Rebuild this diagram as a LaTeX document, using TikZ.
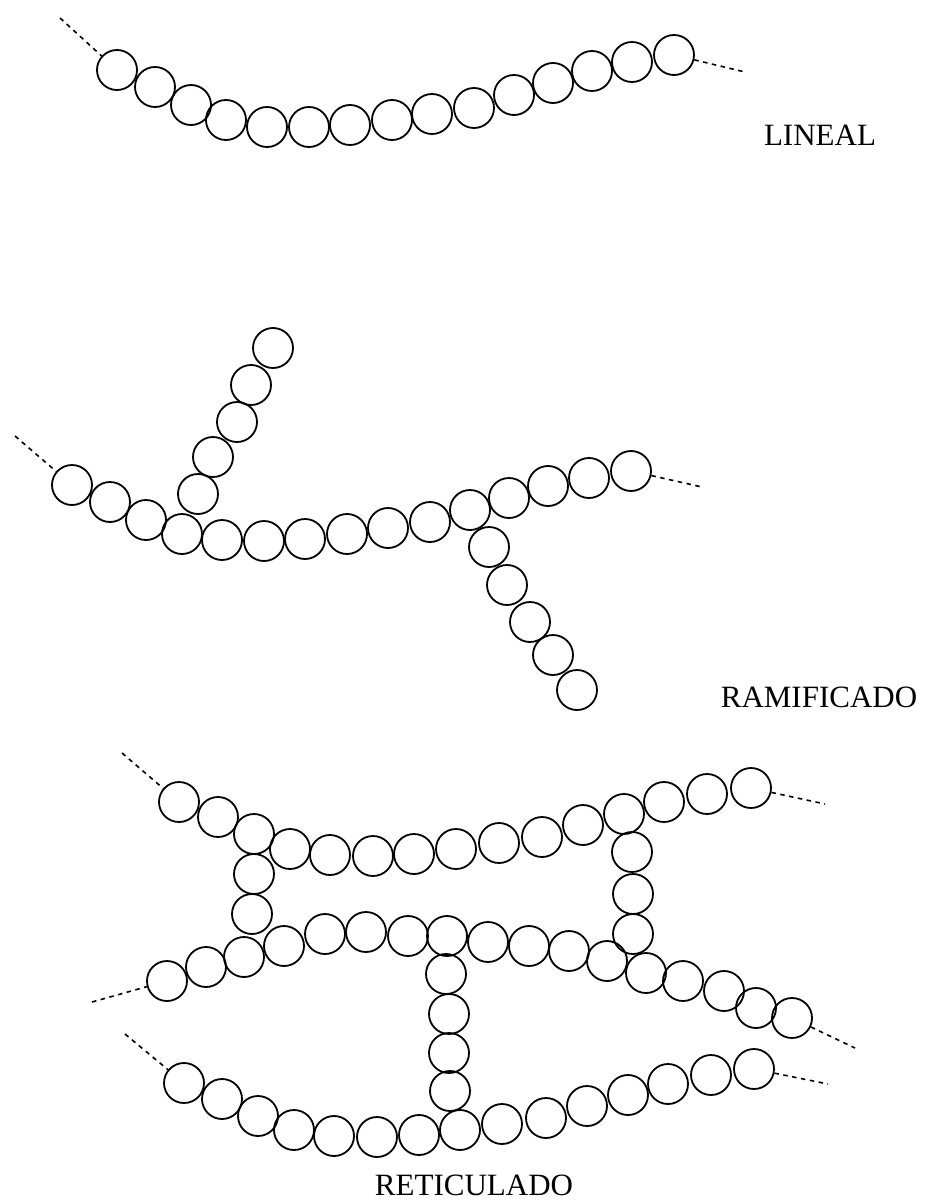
\documentclass[tikz,border=0pt]{standalone}
\usepackage{fontspec}
\setmainfont{Liberation Serif}
\begin{document}
\begin{tikzpicture}[x=1pt,y=-1pt,
  bead/.style={circle,draw=black,line width=1.8pt,minimum size=40pt,inner sep=0pt},
  tail/.style={draw=black,line width=1.6pt,dash pattern=on 4.5pt off 4.5pt},
  label/.style={font=\fontsize{31}{31}\selectfont,inner sep=0pt}]
\useasboundingbox (0,0) rectangle (942,1201);

% --- linear chain ---
\foreach \x/\y [count=\i] in {117/70,155/87,191/105,226/120,267/127,309/127,350/125,392/120,432/114,474/108,514/95,553/83,592/71,632/62,674/55}
  \node[bead] (L\i) at (\x,\y) {};
\coordinate (La) at (60,18);
\coordinate (Lb) at (745,72);
\draw[tail] (La) -- (L1);
\draw[tail] (L15) -- (Lb);
\node[label] (tL) at (820,135) {LINEAL};

% --- branched chain ---
\foreach \x/\y [count=\i] in {72/485,110/502,146/520,182/534,222/540,264/541,305/539,347/534,388/528,430/522,470/510,509/498,548/486,589/478,631/471}
  \node[bead] (R\i) at (\x,\y) {};
\foreach \x/\y [count=\i] in {198/494,213/457,237/422,251/385,273/348}
  \node[bead] (Ru\i) at (\x,\y) {};
\foreach \x/\y [count=\i] in {489/547,507/585,530/622,553/655,577/690}
  \node[bead] (Rd\i) at (\x,\y) {};
\coordinate (Ra) at (15,436);
\coordinate (Rb) at (702,487);
\draw[tail] (Ra) -- (R1);
\draw[tail] (R15) -- (Rb);
\node[label] (tR) at (819,697) {RAMIFICADO};

% --- cross-linked network ---
% upper chain
\foreach \x/\y [count=\i] in {179/802,218/817,254/834,290/849,330/855,373/856,414/854,456/849,499/843,542/837,583/825,624/814,664/802,707/794,751/788}
  \node[bead] (T\i) at (\x,\y) {};
% middle chain
\foreach \x/\y [count=\i] in {167/981,206/967,244/957,284/946,325/934,366/932,408/936,447/936,488/942,529/946,569/951,607/961,646/973,683/981,724/991,756/1008,792/1018}
  \node[bead] (M\i) at (\x,\y) {};
% lower chain
\foreach \x/\y [count=\i] in {184/1083,222/1099,258/1116,294/1130,334/1136,377/1137,419/1135,460/1130,502/1124,546/1118,587/1106,628/1095,668/1084,711/1075,754/1069}
  \node[bead] (B\i) at (\x,\y) {};
% cross-links
\foreach \x/\y [count=\i] in {254/874,252/914}
  \node[bead] (XA\i) at (\x,\y) {};
\foreach \x/\y [count=\i] in {632/852,633/894,633/934}
  \node[bead] (XB\i) at (\x,\y) {};
\foreach \x/\y [count=\i] in {446/974,449/1014,449/1053,450/1091}
  \node[bead] (XC\i) at (\x,\y) {};
% chain ends
\coordinate (Ta) at (122,753);
\coordinate (Tb) at (825,804);
\coordinate (Ma) at (92,1002);
\coordinate (Mb) at (855,1048);
\coordinate (Ba) at (125,1034);
\coordinate (Bb) at (828,1084);
\draw[tail] (Ta) -- (T1);
\draw[tail] (T15) -- (Tb);
\draw[tail] (Ma) -- (M1);
\draw[tail] (M17) -- (Mb);
\draw[tail] (Ba) -- (B1);
\draw[tail] (B15) -- (Bb);
\node[label] (tX) at (474,1185) {RETICULADO};
\end{tikzpicture}
\end{document}
